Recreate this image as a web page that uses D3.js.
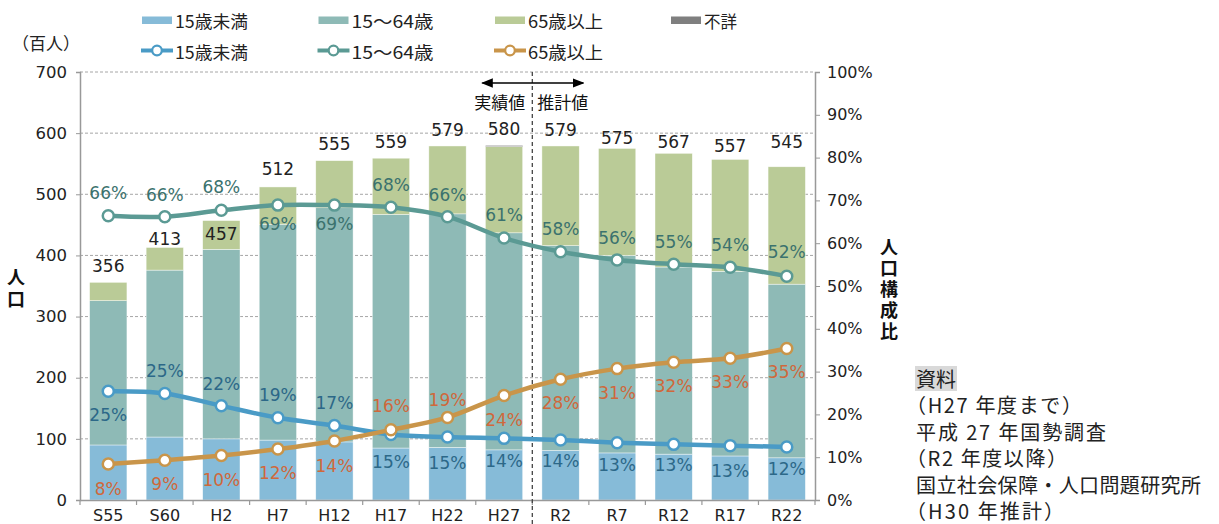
<!DOCTYPE html>
<html>
<head>
<meta charset="utf-8">
<script src="https://cdn.jsdelivr.net/npm/d3@7"></script>
<style>
  body { margin: 0; background: #fff; }
  svg { display: block; font-family: "DejaVu Sans", "Noto Sans CJK JP", sans-serif; }
  .jp { font-family: "Noto Sans CJK JP", sans-serif; }
  .vert { writing-mode: vertical-rl; text-orientation: upright; }
</style>
</head>
<body>
<svg id="chart" width="1219" height="524"></svg>
<script>
// data (population in hundreds, share in %)
const categories = ["S55","S60","H2","H7","H12","H17","H22","H27","R2","R7","R12","R17","R22"];
const pop0_14   = [90, 103, 100, 98, 95, 85, 86, 82, 81, 77, 75, 72, 69];
const pop15_64  = [236, 273, 310, 353, 383, 382, 382, 355, 335, 323, 306, 302, 284];
const pop65     = [30, 37, 47, 61, 77, 92, 111, 141, 163, 175, 186, 183, 192];
const popUnknown = [0, 0, 0, 0, 0, 0, 0, 2, 0, 0, 0, 0, 0];
const totals    = [356, 413, 457, 512, 555, 559, 579, 580, 579, 575, 567, 557, 545];
const share0_14  = [25.4, 24.9, 22.0, 19.2, 17.4, 15.3, 14.7, 14.4, 14.0, 13.4, 13.0, 12.7, 12.4];
const share15_64 = [66.4, 66.2, 67.7, 68.9, 68.9, 68.4, 66.2, 61.2, 58.0, 56.1, 55.1, 54.4, 52.3];
const share65    = [8.4, 9.3, 10.4, 11.9, 13.8, 16.4, 19.3, 24.4, 28.2, 30.7, 32.2, 33.1, 35.4];
const leftTicks = [0, 100, 200, 300, 400, 500, 600, 700];
const rightTicks = [0, 10, 20, 30, 40, 50, 60, 70, 80, 90, 100];

// label nudges (px, vertical) so labels sit like the original
const totalDy = [-16, -8, 13, -18, -17, -16, -16, -16, -16, -10, -11, -13, -25];
const dy0_14  = [24, -22, -22, -23, -23, 27, 26, 23, 21, 22, 21, 25, 22];
const dy15_64 = [-23, -22, -23, 19, 19, -22, -22, -23, -23, -22, -22, -22, -24];
const dy65    = [25, 24, 25, 24, 25, -24, -17, 24, 24, 24, 24, 24, 24];

const colBar = { young: "#86bbd8", work: "#8ebab6", old: "#bacb97", unk: "#7f7f7f" };
const colLine = { young: "#4a9bc6", work: "#5b9a94", old: "#c9954a" };
const colLabel = { young: "#2c6888", work: "#3b726e", old: "#d0683b" };

const svg = d3.select("#chart");
const plotL = 80, plotR = 815, plotT = 72, plotB = 500;

let x = d3.scaleBand().domain(categories).range([plotL, plotR]).paddingInner(0.34).paddingOuter(0.17);
let y = d3.scaleLinear().domain([0, 700]).range([plotB, plotT]);
let y2 = d3.scaleLinear().domain([0, 100]).range([plotB, plotT]);

// gridlines
svg.append("g").selectAll("line").data(leftTicks.filter(d => d > 0)).enter().append("line")
  .attr("x1", plotL).attr("x2", plotR)
  .attr("y1", d => y(d)).attr("y2", d => y(d))
  .attr("stroke", "#a6a6a6").attr("stroke-dasharray", "3,2").attr("stroke-width", 1);

// stacked bars
const rows = categories.map((c, i) => ({ cat: c, young: pop0_14[i], work: pop15_64[i], old: pop65[i], unk: popUnknown[i] }));
const stack = d3.stack().keys(["young", "work", "old", "unk"])(rows);
svg.append("g").selectAll("g").data(stack).enter().append("g")
  .attr("fill", d => colBar[d.key])
  .selectAll("rect").data(d => d).enter().append("rect")
    .attr("x", d => x(d.data.cat))
    .attr("width", x.bandwidth())
    .attr("y", d => y(d[1]))
    .attr("height", d => y(d[0]) - y(d[1]))
    .attr("stroke", "#ffffff").attr("stroke-width", 0.6).attr("stroke-opacity", 0.7);

// left axis
svg.append("g")
  .attr("transform", "translate(" + plotL + ",0)")
  .call(d3.axisLeft(y).tickValues(leftTicks).tickSize(4).tickPadding(9))
  .call(g => g.select(".domain").attr("stroke", "#999").attr("stroke-width", 1.5))
  .call(g => g.selectAll(".tick line").attr("stroke", "#999"))
  .call(g => g.selectAll("text").attr("font-size", 16.5).attr("fill", "#222").style("font-family", "DejaVu Sans"));

// right axis
svg.append("g")
  .attr("transform", "translate(" + plotR + ",0)")
  .call(d3.axisRight(y2).tickValues(rightTicks).tickSize(5).tickPadding(7).tickFormat(d => d + "%"))
  .call(g => g.select(".domain").attr("stroke", "#999").attr("stroke-width", 1.5))
  .call(g => g.selectAll(".tick line").attr("stroke", "#999"))
  .call(g => g.selectAll("text").attr("font-size", 16).attr("fill", "#222").style("font-family", "DejaVu Sans"));

// bottom axis
svg.append("g")
  .attr("transform", "translate(0," + plotB + ")")
  .call(d3.axisBottom(x).tickSize(0).tickPadding(10))
  .call(g => g.select(".domain").attr("stroke", "#999").attr("stroke-width", 1.5))
  .call(g => g.selectAll("text").attr("font-size", 16).attr("fill", "#222").style("font-family", "DejaVu Sans"));
const step = x.step();
const bounds = d3.range(categories.length + 1).map(k => x(categories[0]) - step * x.paddingInner() / 2 + k * step);
svg.append("g").selectAll("line").data(bounds).enter().append("line")
  .attr("x1", d => d).attr("x2", d => d).attr("y1", plotB).attr("y2", plotB + 5)
  .attr("stroke", "#999").attr("stroke-width", 1.2);

// separator between actual and projected
const sepX = x("R2") - step * x.paddingInner() / 2;
svg.append("line")
  .attr("x1", sepX).attr("x2", sepX).attr("y1", plotT).attr("y2", 524)
  .attr("stroke", "#444").attr("stroke-width", 1.3).attr("stroke-dasharray", "4,3");

// arrow
const defs = svg.append("defs");
defs.append("marker").attr("id", "ah").attr("viewBox", "0 0 10 10").attr("refX", 9).attr("refY", 5)
  .attr("markerWidth", 9).attr("markerHeight", 9).attr("orient", "auto-start-reverse")
  .append("path").attr("d", "M0,1 L10,5 L0,9 Z").attr("fill", "#000");
svg.append("line")
  .attr("x1", sepX - 50).attr("x2", sepX + 51).attr("y1", 83).attr("y2", 83)
  .attr("stroke", "#000").attr("stroke-width", 1.3)
  .attr("marker-start", "url(#ah)").attr("marker-end", "url(#ah)");
svg.append("text").attr("class", "jp").attr("x", sepX - 7).attr("y", 101).attr("text-anchor", "end")
  .attr("dominant-baseline", "central").attr("font-size", 17).attr("fill", "#111").text("実績値");
svg.append("text").attr("class", "jp").attr("x", sepX + 5).attr("y", 101).attr("text-anchor", "start")
  .attr("dominant-baseline", "central").attr("font-size", 17).attr("fill", "#111").text("推計値");

// total labels
svg.append("g").selectAll("text").data(totals).enter().append("text")
  .attr("x", (d, i) => x(categories[i]) + x.bandwidth() / 2)
  .attr("y", (d, i) => y(d) + totalDy[i])
  .attr("text-anchor", "middle").attr("dominant-baseline", "central")
  .attr("font-size", 17).attr("fill", "#222").text(d => d);

// ratio lines
const series = [
  { key: "young", vals: share0_14, dy: dy0_14 },
  { key: "work", vals: share15_64, dy: dy15_64 },
  { key: "old", vals: share65, dy: dy65 }
];
const cx = i => x(categories[i]) + x.bandwidth() / 2;
const line = d3.line().x((d, i) => cx(i)).y(d => y2(d)).curve(d3.curveCatmullRom.alpha(0.5));
series.forEach(s => {
  svg.append("path").datum(s.vals)
    .attr("d", line).attr("fill", "none")
    .attr("stroke", colLine[s.key]).attr("stroke-width", 4.5);
  svg.append("g").selectAll("circle").data(s.vals).enter().append("circle")
    .attr("cx", (d, i) => cx(i)).attr("cy", d => y2(d)).attr("r", 5.5)
    .attr("fill", "#fff").attr("stroke", colLine[s.key]).attr("stroke-width", 2.5);
});
series.forEach(s => {
  svg.append("g").selectAll("text").data(s.vals).enter().append("text")
    .attr("x", (d, i) => cx(i)).attr("y", (d, i) => y2(d) + s.dy[i])
    .attr("text-anchor", "middle").attr("dominant-baseline", "central")
    .attr("font-size", 17).attr("fill", colLabel[s.key])
    .text(d => Math.round(d) + "%");
});

// legend
const legBars = [["15歳未満", colBar.young], ["15～64歳", colBar.work], ["65歳以上", colBar.old], ["不詳", colBar.unk]];
const legLines = [["15歳未満", colLine.young], ["15～64歳", colLine.work], ["65歳以上", colLine.old]];
const legX = [142, 318.5, 495, 671];
const legW = { "15歳未満": 73, "15～64歳": 82, "65歳以上": 75, "不詳": 33 };
legBars.forEach((d, i) => {
  svg.append("rect").attr("x", legX[i]).attr("y", 16.5).attr("width", 30).attr("height", 7.5).attr("fill", d[1]);
  svg.append("text").attr("class", "jp").attr("x", legX[i] + 33).attr("y", 20)
    .attr("dominant-baseline", "central").attr("font-size", 17.5).attr("fill", "#222")
    .attr("textLength", legW[d[0]]).attr("lengthAdjust", "spacingAndGlyphs").text(d[0]);
});
legLines.forEach((d, i) => {
  svg.append("line").attr("x1", legX[i] - 1).attr("x2", legX[i] + 31).attr("y1", 50.5).attr("y2", 50.5)
    .attr("stroke", d[1]).attr("stroke-width", 4);
  svg.append("circle").attr("cx", legX[i] + 15).attr("cy", 50.5).attr("r", 4.8)
    .attr("fill", "#fff").attr("stroke", d[1]).attr("stroke-width", 2.2);
  svg.append("text").attr("class", "jp").attr("x", legX[i] + 33).attr("y", 51)
    .attr("dominant-baseline", "central").attr("font-size", 17.5).attr("fill", "#222")
    .attr("textLength", legW[d[0]]).attr("lengthAdjust", "spacingAndGlyphs").text(d[0]);
});

// axis titles
svg.append("text").attr("class", "jp").attr("x", 12).attr("y", 42).attr("dominant-baseline", "central")
  .attr("font-size", 17).attr("fill", "#222").text("（百人）");
svg.append("text").attr("class", "jp vert").attr("x", 16).attr("y", 268)
  .attr("font-size", 18).attr("font-weight", "bold").attr("fill", "#111")
  .style("letter-spacing", "4px").text("人口");
svg.append("text").attr("class", "jp vert").attr("x", 889).attr("y", 238)
  .attr("font-size", 18).attr("font-weight", "bold").attr("fill", "#111")
  .style("letter-spacing", "3px").text("人口構成比");

// source note
svg.append("rect").attr("x", 915).attr("y", 366).attr("width", 42).attr("height", 25).attr("fill", "#d9d9d9");
const note = [
  ["資料", 916, null], ["（H27 年度まで）", 906, 176], ["平成 27 年国勢調査", 916, 190],
  ["（R2 年度以降）", 906, 161], ["国立社会保障・人口問題研究所", 916, 285], ["（H30 年推計）", 906, 158]
];
note.forEach((d, i) => {
  const t = svg.append("text").attr("class", "jp").attr("x", d[1]).attr("y", 378.5 + i * 26.4)
    .attr("dominant-baseline", "central").attr("font-size", 20).attr("fill", "#222").text(d[0]);
  if (d[2]) t.attr("textLength", d[2]).attr("lengthAdjust", "spacing");
});
</script>
</body>
</html>
